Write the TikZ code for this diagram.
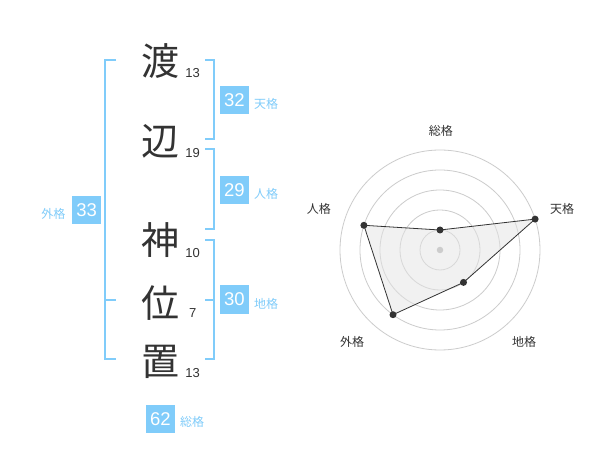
\documentclass[tikz,border=0pt]{standalone}
\usepackage{fontspec}
\setmainfont{Liberation Sans}
\newfontfamily\jp{Noto Sans CJK JP}
\definecolor{ink}{HTML}{333333}
\definecolor{sky}{HTML}{80CCFA}
\definecolor{ringc}{HTML}{CCCCCC}
\definecolor{polyfill}{HTML}{E4E4E4}
\begin{document}
\begin{tikzpicture}[x=1pt,y=-1pt,
  kanji/.style={font=\jp\fontsize{38}{38}\selectfont, text=ink, inner sep=0pt},
  numtxt/.style={font=\fontsize{13}{13}\selectfont, text=ink, inner sep=0pt},
  valbox/.style={fill=sky, text=white, minimum width=28.6pt, minimum height=28.4pt, inner sep=0pt, font=\fontsize{18.5}{18.5}\selectfont},
  kaku/.style={font=\jp\fontsize{12}{12}\selectfont, text=sky, inner sep=0pt},
  bracket/.style={draw=sky, line width=2pt, line join=miter},
  ring/.style={draw=ringc, line width=0.8pt},
  axlabel/.style={font=\jp\fontsize{12}{12}\selectfont, text=ink, inner sep=0pt},
  dotmark/.style={circle, fill=ink, minimum size=7pt, inner sep=0pt},
]
\useasboundingbox[fill=white] (0,0) rectangle (600,470);

% --- name characters ---
\node[kanji] (k1) at (160,61.5) {渡};
\node[kanji] (k2) at (160,141.5) {辺};
\node[kanji] (k3) at (160,240) {神};
\node[kanji] (k4) at (160,303) {位};
\node[kanji] (k5) at (160,361.5) {置};

\node[numtxt] (n1) at (192.7,72.7) {13};
\node[numtxt] (n2) at (192.7,152.7) {19};
\node[numtxt] (n3) at (192.7,252.7) {10};
\node[numtxt] (n4) at (192.7,312.7) {7};
\node[numtxt] (n5) at (192.7,372.7) {13};

% --- brackets ---
\draw[bracket] (116,60) -- (105,60) -- (105,359.3) -- (116,359.3);
\draw[bracket] (105,300) -- (116,300);
\draw[bracket] (205,60) -- (214.3,60) -- (214.3,139.3) -- (205,139.3);
\draw[bracket] (205,149.3) -- (214.3,149.3) -- (214.3,229.3) -- (205,229.3);
\draw[bracket] (205,240) -- (214.3,240) -- (214.3,359.3) -- (205,359.3);
\draw[bracket] (205,300) -- (214.3,300);

% --- values ---
\node[valbox] (v1) at (234.4,100.2) {32};
\node[kaku] (l1) at (266,104.2) {天格};
\node[valbox] (v2) at (234.4,190.2) {29};
\node[kaku] (l2) at (266,194.2) {人格};
\node[valbox] (v3) at (234.4,299.6) {30};
\node[kaku] (l3) at (266,303.8) {地格};
\node[valbox] (v4) at (86.7,210.2) {33};
\node[kaku] (l4) at (53.3,214.2) {外格};
\node[valbox] (v5) at (160.3,419.2) {62};
\node[kaku] (l5) at (192,422) {総格};

% --- radar chart ---
\coordinate (C) at (440,250);
\foreach \r in {20,40,60,80,100} \draw[ring] (C) circle[radius=\r pt];

\coordinate (pS) at (440,230);
\coordinate (pT) at (535.1,219.1);
\coordinate (pC) at (463.5,282.4);
\coordinate (pG) at (393.0,314.7);
\coordinate (pJ) at (363.9,225.3);

\fill[polyfill, fill opacity=0.5] (pS) -- (pT) -- (pC) -- (pG) -- (pJ) -- cycle;
\draw[ink, line width=0.8pt, line join=round] (pS) -- (pT) -- (pC) -- (pG) -- (pJ) -- cycle;

\node[circle, fill=ringc, minimum size=6.5pt, inner sep=0pt] (ctr) at (C) {};
\node[dotmark] (dS) at (pS) {};
\node[dotmark] (dT) at (pT) {};
\node[dotmark] (dC) at (pC) {};
\node[dotmark] (dG) at (pG) {};
\node[dotmark] (dJ) at (pJ) {};

\node[axlabel] (aS) at (440.8,130.8) {総格};
\node[axlabel] (aT) at (562.2,208.7) {天格};
\node[axlabel] (aJ) at (318.8,208.7) {人格};
\node[axlabel] (aG) at (352,341.8) {外格};
\node[axlabel] (aC) at (524.2,341.8) {地格};
\end{tikzpicture}
\end{document}
